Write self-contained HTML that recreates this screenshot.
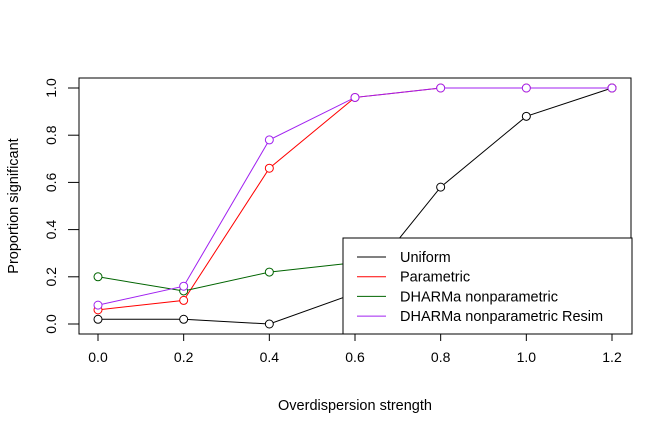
<!DOCTYPE html>
<html><head><style>
body{margin:0;background:#fff;}
svg{display:block;font-family:"Liberation Sans",Arial,sans-serif;}
</style></head><body>
<svg id="chart" width="672" height="432" viewBox="0 0 672 432"></svg>
<script>
const xValues=[0,0.2,0.4,0.6,0.8,1.0,1.2];
const seriesNames=["Uniform","Parametric","DHARMa nonparametric","DHARMa nonparametric Resim"];
const seriesColors=["#000000","#ff0000","#006400","#a020f0"];
const uniformVals=[0.02,0.02,0.0,0.13,0.58,0.88,1.0];
const parametricVals=[0.06,0.10,0.66,0.96,1.0,1.0,1.0];
const nonparVals=[0.20,0.14,0.22,0.26,0.28,0.30,0.30];
const resimVals=[0.08,0.16,0.78,0.96,1.0,1.0,1.0];
const xTicks=[0,0.2,0.4,0.6,0.8,1.0,1.2];
const xTickLabels=["0.0","0.2","0.4","0.6","0.8","1.0","1.2"];
const yTicks=[0,0.2,0.4,0.6,0.8,1.0];
const yTickLabels=["0.0","0.2","0.4","0.6","0.8","1.0"];
const allSeries=[uniformVals,parametricVals,nonparVals,resimVals];

const NS="http://www.w3.org/2000/svg";
const svg=document.getElementById('chart');
const X=v=>98+v*(612-98)/1.2;
const Y=v=>324-v*(324-88);
function mk(tag,attrs,parent){const e=document.createElementNS(NS,tag);for(const k in attrs)e.setAttribute(k,attrs[k]);(parent||svg).appendChild(e);return e;}

const frame=mk('rect',{x:79,y:78,width:552,height:256,fill:'none',stroke:'#000','stroke-width':1});



xTicks.forEach((t,i)=>{
  const l=mk('line',{x1:X(t),x2:X(t),y1:334,y2:341,stroke:'#000'});
  
  
  const tx=mk('text',{x:X(t),y:362,'text-anchor':'middle','font-size':14});
  tx.textContent=xTickLabels[i];
  
  
});
yTicks.forEach((t,i)=>{
  const l=mk('line',{x1:68,x2:79,y1:Y(t),y2:Y(t),stroke:'#000'});
  
  
  const tx=mk('text',{x:0,y:0,'text-anchor':'middle','font-size':14,transform:`translate(56,${Y(t)}) rotate(-90)`});
  tx.textContent=yTickLabels[i];
  
  
});
const xt=mk('text',{x:355,y:410,'text-anchor':'middle','font-size':14.5});
xt.textContent='Overdispersion strength';


const yt=mk('text',{x:0,y:0,'text-anchor':'middle','font-size':14.5,transform:'translate(18,206) rotate(-90)'});
yt.textContent='Proportion significant';



allSeries.forEach((vals,si)=>{
  const g=mk('g',{});
  
  
  const pl=mk('polyline',{points:vals.map((v,i)=>X(xValues[i])+','+Y(vals[i])).join(' '),fill:'none',stroke:seriesColors[si],'stroke-width':1},g);
  
  
  vals.forEach((v,i)=>{
    const c=mk('circle',{cx:X(xValues[i]),cy:Y(v),r:4,fill:'#fff',stroke:seriesColors[si],'stroke-width':1},g);
    
    
  });
});

const lg=mk('g',{});


mk('rect',{x:343,y:238,width:289,height:96,fill:'#fff',stroke:'#000','stroke-width':1},lg);
seriesNames.forEach((n,i)=>{
  const y=257+i*19.7;
  const l=mk('line',{x1:357,x2:386,y1:y,y2:y,stroke:seriesColors[i]},lg);
  
  
  const t=mk('text',{x:400,y:y+5,'font-size':14.5},lg);
  t.textContent=n;
  
  
});
</script>
</body></html>
